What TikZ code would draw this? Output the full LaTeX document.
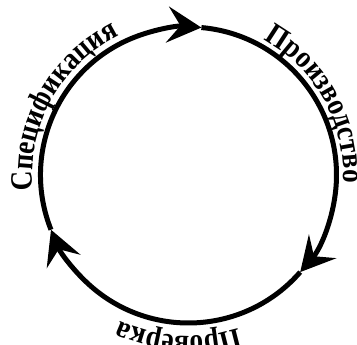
\documentclass[tikz,border=0pt]{standalone}
\usepackage{fontspec}
\setmainfont{Liberation Serif}
\newfontfamily\cyclefamily{Liberation Serif}[FakeStretch=0.88]
\usetikzlibrary{arrows.meta,decorations.text}
\newcommand{\cyclefont}{\cyclefamily\bfseries\fontsize{31}{31}\selectfont}
\tikzset{
  cycle arc/.style={line width=5pt, -{Stealth[length=34pt,width=36pt,inset=13pt]}},
  arc label/.style={decorate, decoration={text along path, text align=center, text={|\cyclefont|#1}}}
}
\begin{document}
\begin{tikzpicture}[x=1pt,y=1pt]
  \useasboundingbox (0,0) rectangle (357,345);
  \coordinate (c) at (188.5,170);
  % arrow tips on the circle
  \path (c) ++(201.7:148) coordinate (specstart);
  \path (c) ++(85:148) coordinate (prodstart);
  \path (c) ++(-41:148) coordinate (checkstart);
  \draw[cycle arc] (specstart) arc[start angle=201.7, end angle=85, radius=148];
  \draw[cycle arc] (prodstart) arc[start angle=85, end angle=-41, radius=148];
  \draw[cycle arc] (checkstart) arc[start angle=-41, end angle=-158.3, radius=148];
  % labels outside the circle
  \path[arc label=Спецификация] (c) ++(206:156) arc[start angle=206, end angle=96, radius=156];
  \path[arc label=Производство] (c) ++(84:155) arc[start angle=84, end angle=-26, radius=155];
  \path[arc label=Проверка] (c) ++(-38.5:161) arc[start angle=-38.5, end angle=-148.5, radius=161];
\end{tikzpicture}
\end{document}
